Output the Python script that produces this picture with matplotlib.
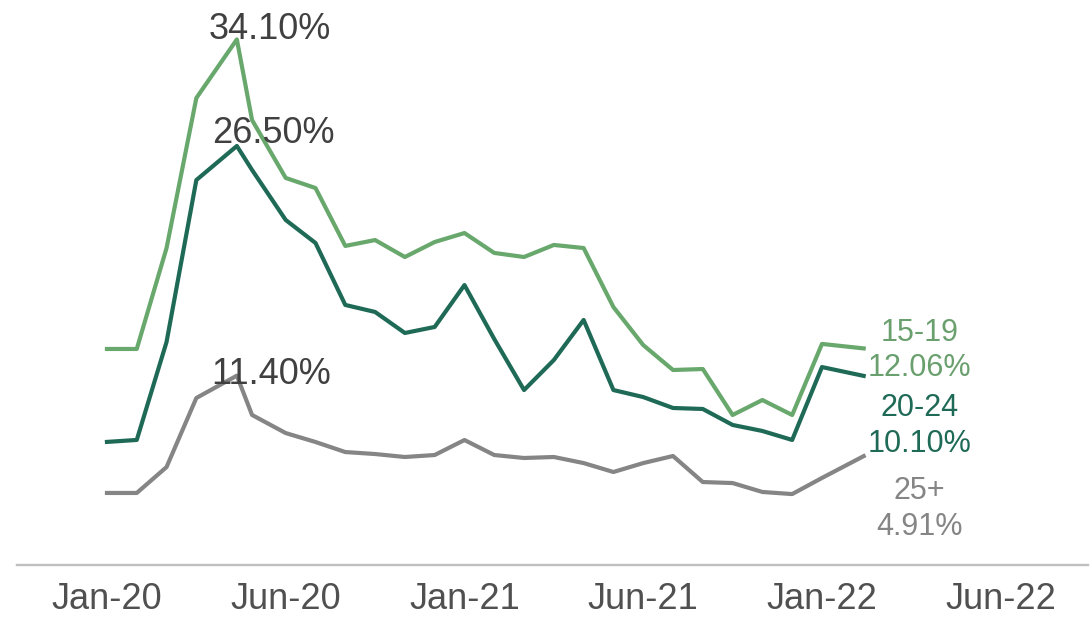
"""
Unemployment rate by age group, Jan-20 to early 2022.
Three lines (15-19, 20-24, 25+) with peak labels and end-of-line labels.
"""

import matplotlib
matplotlib.use("Agg")
import matplotlib.pyplot as plt

# x position in months since Jan-20 (some observations fall mid-month)
MONTHS = [0, 1, 2, 3, 4.36, 4.87, 6, 7, 8, 9, 10, 11, 12, 13, 14, 15, 16,
          17, 18, 19, 20, 21, 22, 23, 24, 25.4]

AGE_15_19 = [12.02, 12.02, 19.22, 29.92, 34.10, 28.35, 24.22, 23.50, 19.37,
             19.79, 18.58, 19.65, 20.29, 18.87, 18.58, 19.44, 19.22, 15.01,
             12.30, 10.52, 10.59, 7.31, 8.38, 7.31, 12.38, 12.06]

AGE_20_24 = [5.39, 5.53, 12.52, 24.07, 26.50, 24.79, 21.22, 19.58, 15.16,
             14.66, 13.16, 13.59, 16.58, 12.73, 9.09, 11.23, 14.09, 9.09,
             8.59, 7.81, 7.74, 6.60, 6.17, 5.53, 10.73, 10.10]

# 25+ sits on its own (secondary) scale in the source chart
AGE_25_PLUS = [1.94, 1.94, 4.03, 9.60, 11.40, 8.23, 6.77, 6.05, 5.24, 5.08,
               4.84, 5.00, 6.21, 5.00, 4.76, 4.84, 4.35, 3.63, 4.35, 4.92,
               2.82, 2.74, 2.02, 1.85, 3.15, 4.91]

SERIES_NAMES = ["15-19", "20-24", "25+"]
TICK_MONTHS = [0, 6, 12, 18, 24, 30]
TICK_LABELS = ["Jan-20", "Jun-20", "Jan-21", "Jun-21", "Jan-22", "Jun-22"]

LIGHT_GREEN = "#68a86c"
DARK_GREEN = "#1f6a56"
GREY = "#858585"
LABEL_GREY = "#404040"

FONT = "Liberation Sans"


def peak_label(ax, x, y, dx, dy):
    ax.annotate(f"{y:.2f}%", xy=(x, y), xytext=(dx, dy),
                textcoords="offset pixels", ha="center", va="center",
                fontsize=26, color=LABEL_GREY, family=FONT, zorder=6)


def end_label(ax, x, y, name, color, dx, dy):
    ax.annotate(f"{name}\n{y:.2f}%", xy=(x, y), xytext=(dx, dy),
                textcoords="offset pixels", ha="center", va="center",
                multialignment="center", linespacing=1.25,
                fontsize=22, color=color, family=FONT, zorder=6)


def main() -> None:
    fig = plt.figure(figsize=(10.92, 6.18), dpi=100)
    ax = fig.add_axes([17 / 1092, 53 / 618, 1071 / 1092, 555 / 618])
    ax2 = ax.twinx()

    ax.plot(MONTHS, AGE_15_19, color=LIGHT_GREEN, linewidth=3.0, zorder=3)
    ax.plot(MONTHS, AGE_20_24, color=DARK_GREEN, linewidth=3.0, zorder=3)
    ax2.plot(MONTHS, AGE_25_PLUS, color=GREY, linewidth=3.0, zorder=3)

    ax.set_xlim(-3.02, 32.93)
    ax.set_ylim(-3.39, 36.2)
    ax2.set_ylim(-3.87, 40.89)

    # Peak labels
    i15 = AGE_15_19.index(max(AGE_15_19))
    i20 = AGE_20_24.index(max(AGE_20_24))
    i25 = AGE_25_PLUS.index(max(AGE_25_PLUS))
    peak_label(ax, MONTHS[i15], AGE_15_19[i15], 33, 10)
    peak_label(ax, MONTHS[i20], AGE_20_24[i20], 37, 12)
    peak_label(ax2, MONTHS[i25], AGE_25_PLUS[i25], 34, 1)

    # End-of-line labels
    end_label(ax, MONTHS[-1], AGE_15_19[-1], SERIES_NAMES[0], "#6a9f6e", 56, -2)
    end_label(ax, MONTHS[-1], AGE_20_24[-1], SERIES_NAMES[1], DARK_GREEN, 56, -50)
    end_label(ax2, MONTHS[-1], AGE_25_PLUS[-1], SERIES_NAMES[2], GREY, 56, -53)

    ax.set_xticks(TICK_MONTHS)
    ax.set_xticklabels(TICK_LABELS, fontsize=26, color="#505050", family=FONT)
    ax.tick_params(axis="x", length=0, pad=12)
    ax.set_yticks([])
    ax2.set_yticks([])

    for a in (ax, ax2):
        for side in ("top", "left", "right", "bottom"):
            a.spines[side].set_visible(False)
    ax.spines["bottom"].set_visible(True)
    ax.spines["bottom"].set_color("#bfbfbf")
    ax.spines["bottom"].set_linewidth(1.7)

    fig.savefig("out.png", dpi=100)
    plt.close(fig)


if __name__ == "__main__":
    main()
